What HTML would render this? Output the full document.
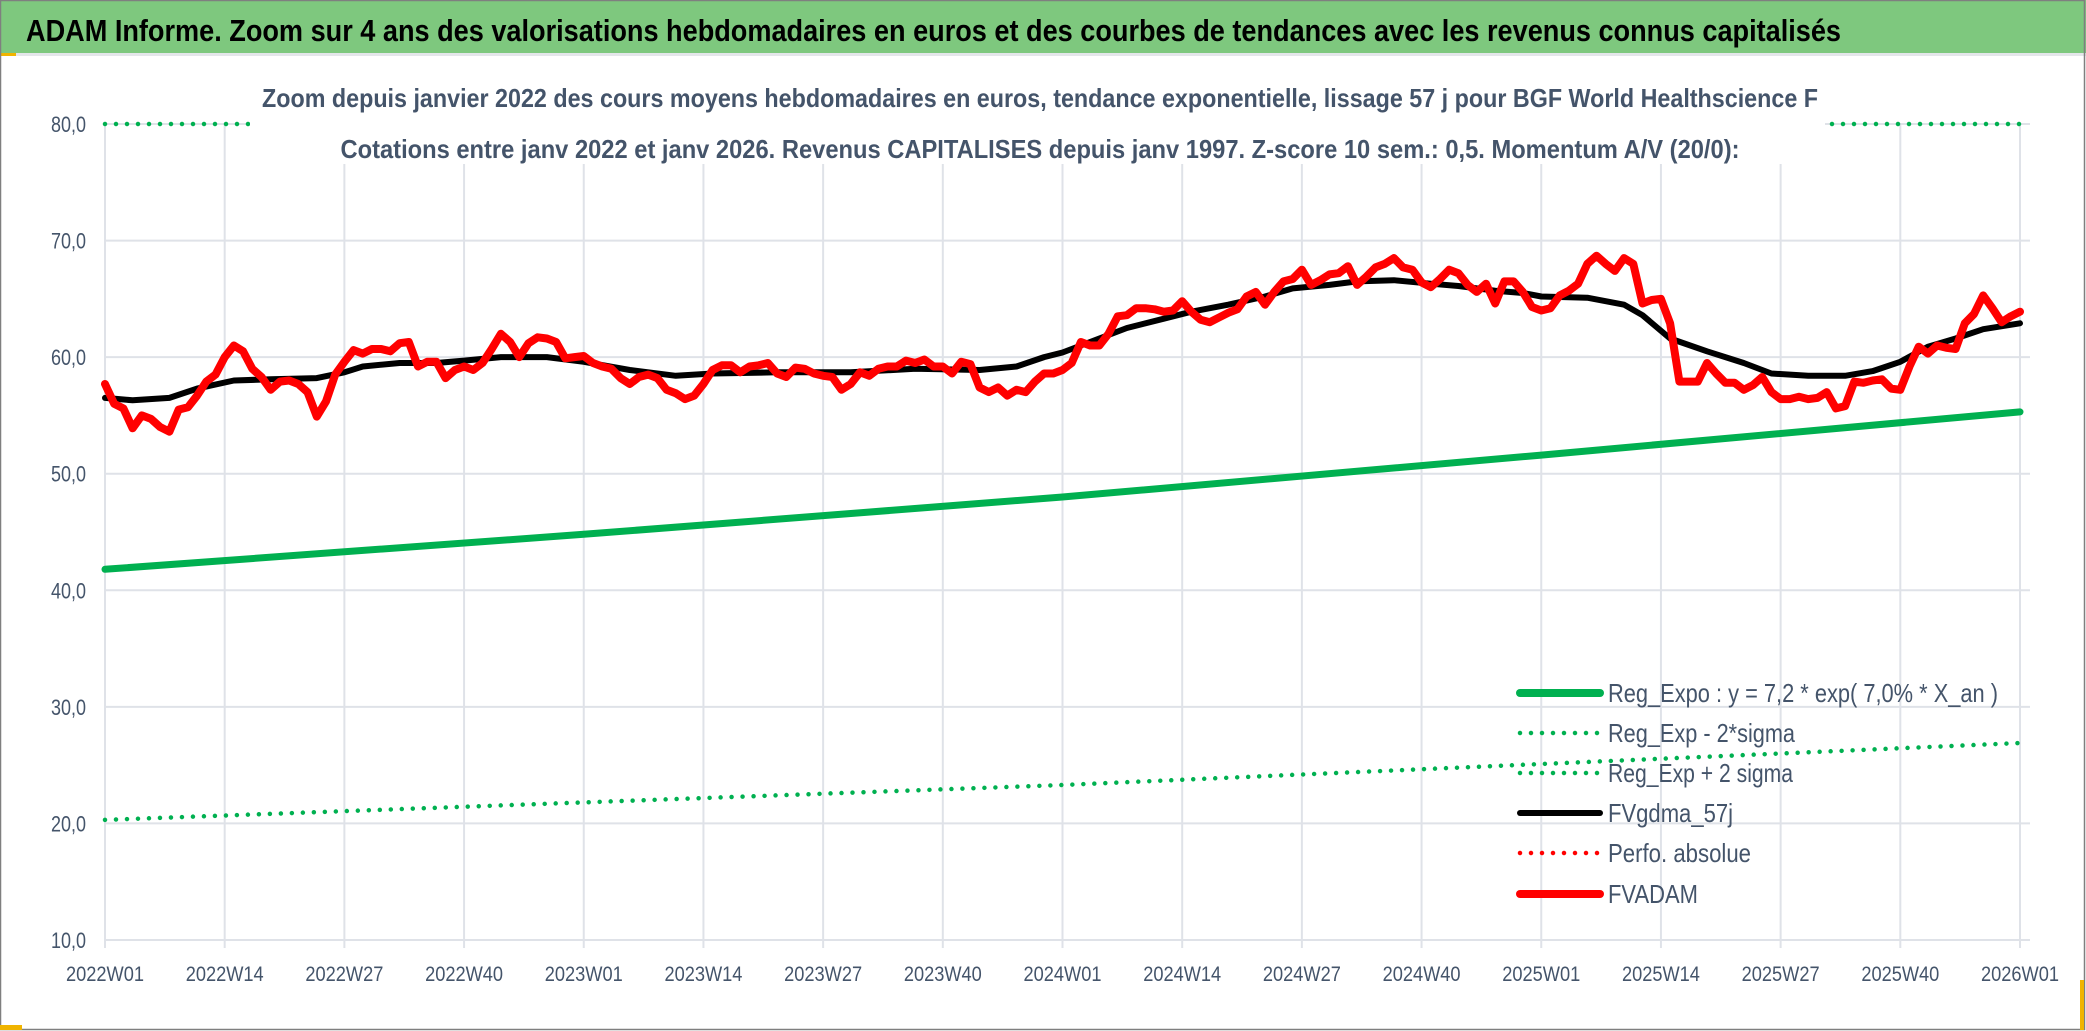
<!DOCTYPE html>
<html><head><meta charset="utf-8"><style>
html,body{margin:0;padding:0;background:#fff;}
svg{display:block;font-family:"Liberation Sans",sans-serif;}
</style></head><body>
<svg id="chart" width="2086" height="1031" viewBox="0 0 2086 1031" xmlns="http://www.w3.org/2000/svg">
<rect x="0" y="0" width="2086" height="1031" fill="#fff"/>
<rect x="0" y="0" width="2086" height="53" fill="#7ec87e"/>
<rect x="0" y="53" width="2086" height="3" fill="#e4e6ea"/>
<rect x="0" y="53" width="16" height="3" fill="#f0b400"/>
<rect x="0.5" y="0.5" width="2084" height="1029" fill="none" stroke="#7f7f7f" stroke-width="1.5"/>
<rect x="0" y="1025" width="22" height="5" fill="#f0b400"/>
<rect x="2080" y="980" width="4" height="50" fill="#f0b400"/>
<text x="26" y="41" font-size="31" font-weight="bold" fill="#000" textLength="1815" lengthAdjust="spacingAndGlyphs">ADAM Informe. Zoom sur 4 ans des valorisations hebdomadaires en euros et des courbes de tendances avec les revenus connus capitalisés</text>
<g id="grid"></g>
<g id="series"></g>
<rect x="250" y="72" width="1575" height="92" fill="#fff"/>
<text x="1040" y="107" font-size="26" font-weight="bold" fill="#44546a" text-anchor="middle" textLength="1556" lengthAdjust="spacingAndGlyphs">Zoom depuis janvier 2022 des cours moyens hebdomadaires en euros, tendance exponentielle, lissage 57 j pour BGF World Healthscience F</text>
<text x="1040" y="158" font-size="26" font-weight="bold" fill="#44546a" text-anchor="middle" textLength="1399" lengthAdjust="spacingAndGlyphs">Cotations entre janv 2022 et janv 2026. Revenus CAPITALISES depuis janv 1997. Z-score 10 sem.: 0,5. Momentum A/V (20/0):</text>
<g id="axes"></g>
<g id="legend"></g>
</svg>
<script>
const yTicks = [10,20,30,40,50,60,70,80];
const yTickLabels = ["10,0","20,0","30,0","40,0","50,0","60,0","70,0","80,0"];
const xTickWeeks = [0,13,26,39,52,65,78,91,104,117,130,143,156,169,182,195,208];
const xTickLabels = ["2022W01","2022W14","2022W27","2022W40","2023W01","2023W14","2023W27","2023W40","2024W01","2024W14","2024W27","2024W40","2025W01","2025W14","2025W27","2025W40","2026W01"];
const fvadam = [57.7,56.0,55.6,53.9,55.0,54.7,54.0,53.6,55.5,55.7,56.7,57.9,58.5,60.0,61.0,60.5,59.0,58.3,57.2,57.9,58.0,57.7,57.0,54.9,56.2,58.5,59.6,60.6,60.3,60.7,60.7,60.5,61.2,61.3,59.2,59.6,59.6,58.2,58.9,59.2,58.9,59.5,60.7,62.0,61.3,60.0,61.2,61.7,61.6,61.3,59.9,60.0,60.1,
59.5,59.2,59.0,58.2,57.7,58.3,58.5,58.2,57.2,56.9,56.4,56.7,57.7,58.9,59.3,59.3,58.7,59.2,59.3,59.5,58.6,58.3,59.1,59.0,58.6,58.4,58.3,57.2,57.7,58.7,58.4,59.0,59.2,59.2,59.7,59.5,59.8,59.2,59.2,58.6,59.6,59.4,57.4,57.0,57.4,56.7,57.2,57.0,57.9,58.6,58.6,
58.9,59.5,61.3,61.0,61.0,62.0,63.5,63.6,64.2,64.2,64.1,63.9,64.0,64.8,63.9,63.2,63.0,63.4,63.8,64.1,65.2,65.6,64.5,65.6,66.5,66.7,67.5,66.2,66.6,67.1,67.2,67.8,66.2,66.9,67.7,68.0,68.5,67.7,67.5,66.4,66.0,66.7,67.5,67.2,66.2,65.6,66.3,64.6,66.5,66.5,65.6,64.3,
64.0,64.2,65.3,65.7,66.3,68.0,68.7,68.0,67.4,68.5,68.0,64.6,64.9,65.0,62.9,57.9,57.9,57.9,59.5,58.6,57.8,57.8,57.2,57.6,58.3,57.0,56.4,56.4,56.6,56.4,56.5,57.0,55.6,55.8,57.9,57.8,58.0,58.1,57.3,57.2,59.2,60.9,60.3,61.0,60.8,60.7,62.9,63.7,65.3,64.2,63.0,63.5,63.9];
const maWeeks = [0,3,7,10,14,18,23,26,28,32,36,39,43,48,52,57,62,66,73,81,88,95,99,102,104,107,111,115,118,122,126,129,133,136,140,144,147,151,154,156,161,165,167,170,174,178,181,185,189,192,195,198,201,204,208];
const maValues = [56.5,56.3,56.5,57.3,58.0,58.1,58.2,58.7,59.2,59.5,59.5,59.7,60.0,60.0,59.6,58.9,58.4,58.6,58.7,58.7,59.0,58.9,59.2,60.0,60.4,61.3,62.5,63.3,63.9,64.5,65.2,65.9,66.2,66.5,66.6,66.3,66.1,65.7,65.5,65.2,65.1,64.5,63.6,61.6,60.5,59.5,58.6,58.4,58.4,58.8,59.6,60.9,61.6,62.4,62.9];
const regWeeks = [0,52,104,156,208];
const regExpo = [41.8,44.8,48.0,51.6,55.3];
const regLow = [20.3,21.8,23.3,25.1,26.9];
const regHigh = [80,80,80,80,80];

const NS="http://www.w3.org/2000/svg";
const X0=105, X1=2020, Y10=940, Y80=124;
function xs(w){return X0+(X1-X0)*w/208;}
function ys(v){return Y10-(v-10)*(Y10-Y80)/70;}
function mk(tag,attrs,parent){const e=document.createElementNS(NS,tag);for(const k in attrs)e.setAttribute(k,attrs[k]);parent.appendChild(e);return e;}
const grid=document.getElementById('grid'), axes=document.getElementById('axes'), series=document.getElementById('series'), legend=document.getElementById('legend');

yTicks.forEach((t,i)=>{
  const l=mk('line',{x1:X0,x2:2030,y1:ys(t),y2:ys(t),stroke:'#dfe2e8','stroke-width':2},grid);
  
  
  const tx=mk('text',{x:86,y:ys(t)+8,'font-size':22,fill:'#44546a','text-anchor':'end',textLength:35,lengthAdjust:'spacingAndGlyphs'},axes);
  tx.textContent=yTickLabels[i];
  
  
});
xTickWeeks.forEach((w,i)=>{
  const l=mk('line',{x1:xs(w),x2:xs(w),y1:Y80,y2:Y10+8,stroke:'#dfe2e8','stroke-width':2},grid);
  
  
  const tx=mk('text',{x:xs(w),y:981,'font-size':21,fill:'#44546a','text-anchor':'middle',textLength:78,lengthAdjust:'spacingAndGlyphs'},axes);
  tx.textContent=xTickLabels[i];
  
  
});

function line(weeks,vals,attrs,name){
  const pts=weeks.map((w,i)=>xs(w).toFixed(1)+','+ys(vals[i]).toFixed(1)).join(' ');
  const p=mk('polyline',Object.assign({points:pts,fill:'none','stroke-linejoin':'round','stroke-linecap':'round'},attrs),series);
  
  
}
const dotted={'stroke-width':4.5,'stroke-dasharray':'0 11'};
line(regWeeks,regHigh,Object.assign({stroke:'#00b050'},dotted),'reg-exp-plus-2sigma-line');
line(regWeeks,regLow,Object.assign({stroke:'#00b050'},dotted),'reg-exp-minus-2sigma-line');
line(regWeeks,regExpo,{stroke:'#00b050','stroke-width':7},'reg-expo-line');
line(maWeeks,maValues,{stroke:'#000','stroke-width':6},'fvgdma-57j-line');
line(fvadam.map((v,i)=>i),fvadam,{stroke:'#ff0000','stroke-width':8},'fvadam-line');

const legItems=[
 ['Reg_Expo : y = 7,2 * exp( 7,0% *  X_an )','#00b050',false,390,'legend-reg-expo'],
 ['Reg_Exp - 2*sigma','#00b050',true,187,'legend-reg-exp-minus'],
 ['Reg_Exp + 2 sigma','#00b050',true,185,'legend-reg-exp-plus'],
 ['FVgdma_57j','#000',false,125,'legend-fvgdma'],
 ['Perfo. absolue','#ff0000',true,143,'legend-perfo-absolue'],
 ['FVADAM','#ff0000',false,90,'legend-fvadam']];
const legY=[693,733,773,813,853,894];
legItems.forEach((it,i)=>{
  const g=mk('g',{},legend);
  
  
  const y=legY[i];
  if(it[2]) mk('line',{x1:1520,x2:1600,y1:y,y2:y,stroke:it[1],'stroke-width':4.5,'stroke-dasharray':'0 11','stroke-linecap':'round'},g);
  else mk('line',{x1:1520,x2:1600,y1:y,y2:y,stroke:it[1],'stroke-width':it[1]==='#000'?6:8,'stroke-linecap':'round'},g);
  const t=mk('text',{x:1608,y:y+9,'font-size':26,fill:'#44546a',textLength:it[3],lengthAdjust:'spacingAndGlyphs'},g);
  t.textContent=it[0];
});
</script>
</body></html>
